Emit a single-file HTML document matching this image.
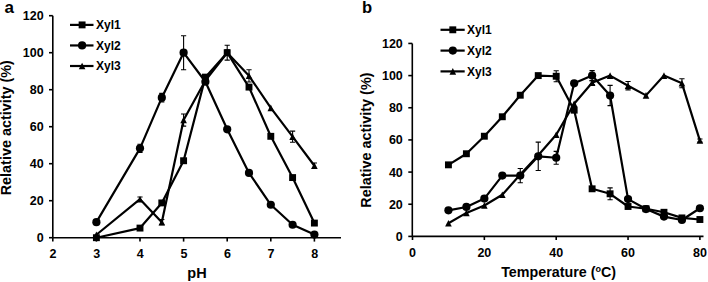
<!DOCTYPE html>
<html><head><meta charset="utf-8"><style>
html,body{margin:0;padding:0;background:#fff;}
body{width:708px;height:282px;overflow:hidden;}
svg{display:block;font-family:"Liberation Sans", sans-serif;font-weight:bold;}
</style></head><body>
<svg width="708" height="282" viewBox="0 0 708 282">
<rect width="708" height="282" fill="#fff"/>
<text x="4.4" y="12.5" text-anchor="start" font-size="17" >a</text><g stroke="#000" stroke-width="1.6" fill="none"><path d="M52.8,15.7V237.7M52.8,237.7H341"/><path d="M49,237.70H52.8"/><path d="M49,200.70H52.8"/><path d="M49,163.70H52.8"/><path d="M49,126.70H52.8"/><path d="M49,89.70H52.8"/><path d="M49,52.70H52.8"/><path d="M49,15.70H52.8"/><path d="M52.80,237.7V241.6"/><path d="M96.40,237.7V241.6"/><path d="M140.00,237.7V241.6"/><path d="M183.60,237.7V241.6"/><path d="M227.20,237.7V241.6"/><path d="M270.80,237.7V241.6"/><path d="M314.40,237.7V241.6"/></g><text x="43.6" y="242.2" text-anchor="end" font-size="12.5" >0</text><text x="43.6" y="205.2" text-anchor="end" font-size="12.5" >20</text><text x="43.6" y="168.2" text-anchor="end" font-size="12.5" >40</text><text x="43.6" y="131.2" text-anchor="end" font-size="12.5" >60</text><text x="43.6" y="94.19999999999999" text-anchor="end" font-size="12.5" >80</text><text x="43.6" y="57.19999999999999" text-anchor="end" font-size="12.5" >100</text><text x="43.6" y="20.19999999999999" text-anchor="end" font-size="12.5" >120</text><text x="53.099999999999994" y="258" text-anchor="middle" font-size="12.5" >2</text><text x="96.7" y="258" text-anchor="middle" font-size="12.5" >3</text><text x="140.3" y="258" text-anchor="middle" font-size="12.5" >4</text><text x="183.90000000000003" y="258" text-anchor="middle" font-size="12.5" >5</text><text x="227.5" y="258" text-anchor="middle" font-size="12.5" >6</text><text x="271.1" y="258" text-anchor="middle" font-size="12.5" >7</text><text x="314.70000000000005" y="258" text-anchor="middle" font-size="12.5" >8</text><text x="197" y="278.4" text-anchor="middle" font-size="14.5" >pH</text><text transform="translate(10.9,127.7) rotate(-90)" text-anchor="middle" font-size="14.4">Relative activity (%)</text><path d="M70,24.9H93.5" stroke="#000" stroke-width="2.2"/><g fill="#000"><rect x="78.65" y="21.45" width="6.90" height="6.90"/></g><text x="96" y="29.2" text-anchor="start" font-size="12" >Xyl1</text><path d="M70,45.45H93.5" stroke="#000" stroke-width="2.2"/><g fill="#000"><circle cx="82.10" cy="45.45" r="4.10"/></g><text x="96" y="49.75" text-anchor="start" font-size="12" >Xyl2</text><path d="M70,66.0H93.5" stroke="#000" stroke-width="2.2"/><g fill="#000"><polygon points="78.80,69.30 85.40,69.30 82.10,62.70"/></g><text x="96" y="70.3" text-anchor="start" font-size="12" >Xyl3</text><g stroke="#000" stroke-width="1.1" fill="none"><path d="M140.00,144.27V152.41M137.40,144.27h5.2M137.40,152.41h5.2"/><path d="M161.80,93.40V101.91M159.20,93.40h5.2M159.20,101.91h5.2"/><path d="M183.60,35.68V69.72M181.00,35.68h5.2M181.00,69.72h5.2"/><path d="M140.00,197.00V201.44M137.40,197.00h5.2M137.40,201.44h5.2"/><path d="M161.80,219.57V224.75M159.20,219.57h5.2M159.20,224.75h5.2"/><path d="M183.60,113.93V126.14M181.00,113.93h5.2M181.00,126.14h5.2"/><path d="M227.20,49.92V55.47M224.60,49.92h5.2M224.60,55.47h5.2"/><path d="M249.00,69.72V81.93M246.40,69.72h5.2M246.40,81.93h5.2"/><path d="M292.60,131.14V142.24M290.00,131.14h5.2M290.00,142.24h5.2"/><path d="M314.40,162.96V168.51M311.80,162.96h5.2M311.80,168.51h5.2"/><path d="M227.20,45.30V60.10M224.60,45.30h5.2M224.60,60.10h5.2"/></g><polyline points="96.40,237.70 140.00,228.08 161.80,202.92 183.60,160.74 205.40,77.12 227.20,52.70 249.00,87.11 270.80,136.32 292.60,177.57 314.40,223.08" fill="none" stroke="#000" stroke-width="2.2" stroke-linejoin="round"/><g fill="#000"><rect x="92.95" y="234.25" width="6.90" height="6.90"/><rect x="136.55" y="224.63" width="6.90" height="6.90"/><rect x="158.35" y="199.47" width="6.90" height="6.90"/><rect x="180.15" y="157.29" width="6.90" height="6.90"/><rect x="201.95" y="73.67" width="6.90" height="6.90"/><rect x="223.75" y="49.25" width="6.90" height="6.90"/><rect x="245.55" y="83.66" width="6.90" height="6.90"/><rect x="267.35" y="132.87" width="6.90" height="6.90"/><rect x="289.15" y="174.12" width="6.90" height="6.90"/><rect x="310.95" y="219.63" width="6.90" height="6.90"/></g><polyline points="96.40,234.74 140.00,199.22 161.80,222.16 183.60,120.04 205.40,80.45 227.20,52.70 249.00,75.82 270.80,107.83 292.60,136.69 314.40,165.73" fill="none" stroke="#000" stroke-width="2.2" stroke-linejoin="round"/><g fill="#000"><polygon points="93.10,238.04 99.70,238.04 96.40,231.44"/><polygon points="136.70,202.52 143.30,202.52 140.00,195.92"/><polygon points="158.50,225.46 165.10,225.46 161.80,218.86"/><polygon points="180.30,123.34 186.90,123.34 183.60,116.74"/><polygon points="202.10,83.75 208.70,83.75 205.40,77.15"/><polygon points="223.90,56.00 230.50,56.00 227.20,49.40"/><polygon points="245.70,79.12 252.30,79.12 249.00,72.52"/><polygon points="267.50,111.13 274.10,111.13 270.80,104.53"/><polygon points="289.30,139.99 295.90,139.99 292.60,133.39"/><polygon points="311.10,169.03 317.70,169.03 314.40,162.43"/></g><polyline points="96.40,222.16 140.00,148.34 161.80,97.65 183.60,52.70 205.40,81.74 227.20,129.29 249.00,172.95 270.80,204.77 292.60,224.75 314.40,234.55" fill="none" stroke="#000" stroke-width="2.2" stroke-linejoin="round"/><g fill="#000"><circle cx="96.40" cy="222.16" r="4.10"/><circle cx="140.00" cy="148.34" r="4.10"/><circle cx="161.80" cy="97.65" r="4.10"/><circle cx="183.60" cy="52.70" r="4.10"/><circle cx="205.40" cy="81.74" r="4.10"/><circle cx="227.20" cy="129.29" r="4.10"/><circle cx="249.00" cy="172.95" r="4.10"/><circle cx="270.80" cy="204.77" r="4.10"/><circle cx="292.60" cy="224.75" r="4.10"/><circle cx="314.40" cy="234.55" r="4.10"/></g><text x="362" y="12.6" text-anchor="start" font-size="16.6" >b</text><g stroke="#000" stroke-width="1.6" fill="none"><path d="M412.3,43.4V236.4M412.3,236.4H703.5"/><path d="M408.3,236.40H412.3"/><path d="M408.3,204.24H412.3"/><path d="M408.3,172.08H412.3"/><path d="M408.3,139.92H412.3"/><path d="M408.3,107.76H412.3"/><path d="M408.3,75.60H412.3"/><path d="M408.3,43.44H412.3"/><path d="M412.50,236.4V240"/><path d="M484.35,236.4V240"/><path d="M556.20,236.4V240"/><path d="M628.05,236.4V240"/><path d="M699.90,236.4V240"/></g><text x="402.8" y="240.9" text-anchor="end" font-size="12.5" >0</text><text x="402.8" y="208.74" text-anchor="end" font-size="12.5" >20</text><text x="402.8" y="176.57999999999998" text-anchor="end" font-size="12.5" >40</text><text x="402.8" y="144.42000000000002" text-anchor="end" font-size="12.5" >60</text><text x="402.8" y="112.25999999999999" text-anchor="end" font-size="12.5" >80</text><text x="402.8" y="80.1" text-anchor="end" font-size="12.5" >100</text><text x="402.8" y="47.94" text-anchor="end" font-size="12.5" >120</text><text x="412.5" y="256.6" text-anchor="middle" font-size="12.5" >0</text><text x="484.35" y="256.6" text-anchor="middle" font-size="12.5" >20</text><text x="556.2" y="256.6" text-anchor="middle" font-size="12.5" >40</text><text x="628.05" y="256.6" text-anchor="middle" font-size="12.5" >60</text><text x="699.9" y="256.6" text-anchor="middle" font-size="12.5" >80</text><text x="558.6" y="276.5" text-anchor="middle" font-size="14.3">Temperature (<tspan font-size="9" dy="-5">o</tspan><tspan dy="5">C)</tspan></text><text transform="translate(370.9,140.1) rotate(-90)" text-anchor="middle" font-size="14.4">Relative activity (%)</text><path d="M440.5,29.8H464.7" stroke="#000" stroke-width="2.2"/><g fill="#000"><rect x="449.35" y="26.35" width="6.90" height="6.90"/></g><text x="467" y="34.1" text-anchor="start" font-size="12" >Xyl1</text><path d="M440.5,50.6H464.7" stroke="#000" stroke-width="2.2"/><g fill="#000"><circle cx="452.80" cy="50.60" r="4.10"/></g><text x="467" y="54.9" text-anchor="start" font-size="12" >Xyl2</text><path d="M440.5,71.4H464.7" stroke="#000" stroke-width="2.2"/><g fill="#000"><polygon points="449.50,74.70 456.10,74.70 452.80,68.10"/></g><text x="467" y="75.7" text-anchor="start" font-size="12" >Xyl3</text><g stroke="#000" stroke-width="1.1" fill="none"><path d="M556.20,70.78V81.71M553.60,70.78h5.2M553.60,81.71h5.2"/><path d="M610.09,187.84V199.74M607.49,187.84h5.2M607.49,199.74h5.2"/><path d="M484.35,196.20V201.02M481.75,196.20h5.2M481.75,201.02h5.2"/><path d="M520.27,168.54V182.69M517.67,168.54h5.2M517.67,182.69h5.2"/><path d="M538.24,142.17V170.47M535.64,142.17h5.2M535.64,170.47h5.2"/><path d="M556.20,151.34V164.20M553.60,151.34h5.2M553.60,164.20h5.2"/><path d="M592.12,70.62V80.58M589.52,70.62h5.2M589.52,80.58h5.2"/><path d="M610.09,85.41V105.67M607.49,85.41h5.2M607.49,105.67h5.2"/><path d="M592.12,80.75V84.60M589.52,80.75h5.2M589.52,84.60h5.2"/><path d="M628.05,81.55V89.91M625.45,81.55h5.2M625.45,89.91h5.2"/><path d="M681.94,78.82V87.82M679.34,78.82h5.2M679.34,87.82h5.2"/><path d="M699.90,138.96V142.17M697.30,138.96h5.2M697.30,142.17h5.2"/></g><polyline points="448.43,164.84 466.39,153.75 484.35,136.22 502.31,116.76 520.27,95.22 538.24,75.60 556.20,76.24 574.16,110.17 592.12,188.80 610.09,193.79 628.05,206.49 646.01,208.74 663.98,212.28 681.94,217.91 699.90,219.52" fill="none" stroke="#000" stroke-width="2.2" stroke-linejoin="round"/><g fill="#000"><rect x="444.98" y="161.39" width="6.90" height="6.90"/><rect x="462.94" y="150.30" width="6.90" height="6.90"/><rect x="480.90" y="132.77" width="6.90" height="6.90"/><rect x="498.86" y="113.31" width="6.90" height="6.90"/><rect x="516.82" y="91.77" width="6.90" height="6.90"/><rect x="534.79" y="72.15" width="6.90" height="6.90"/><rect x="552.75" y="72.79" width="6.90" height="6.90"/><rect x="570.71" y="106.72" width="6.90" height="6.90"/><rect x="588.67" y="185.35" width="6.90" height="6.90"/><rect x="606.64" y="190.34" width="6.90" height="6.90"/><rect x="624.60" y="203.04" width="6.90" height="6.90"/><rect x="642.56" y="205.29" width="6.90" height="6.90"/><rect x="660.52" y="208.83" width="6.90" height="6.90"/><rect x="678.49" y="214.46" width="6.90" height="6.90"/><rect x="696.45" y="216.07" width="6.90" height="6.90"/></g><polyline points="448.43,223.21 466.39,212.92 484.35,205.53 502.31,194.75 520.27,174.49 538.24,155.20 556.20,134.77 574.16,103.74 592.12,82.68 610.09,75.60 628.05,85.73 646.01,95.38 663.98,75.60 681.94,83.32 699.90,140.56" fill="none" stroke="#000" stroke-width="2.2" stroke-linejoin="round"/><g fill="#000"><polygon points="445.12,226.51 451.73,226.51 448.43,219.91"/><polygon points="463.09,216.22 469.69,216.22 466.39,209.62"/><polygon points="481.05,208.83 487.65,208.83 484.35,202.23"/><polygon points="499.01,198.05 505.61,198.05 502.31,191.45"/><polygon points="516.98,177.79 523.57,177.79 520.27,171.19"/><polygon points="534.94,158.50 541.54,158.50 538.24,151.90"/><polygon points="552.90,138.07 559.50,138.07 556.20,131.47"/><polygon points="570.86,107.04 577.46,107.04 574.16,100.44"/><polygon points="588.83,85.98 595.42,85.98 592.12,79.38"/><polygon points="606.79,78.90 613.39,78.90 610.09,72.30"/><polygon points="624.75,89.03 631.35,89.03 628.05,82.43"/><polygon points="642.71,98.68 649.31,98.68 646.01,92.08"/><polygon points="660.68,78.90 667.27,78.90 663.98,72.30"/><polygon points="678.64,86.62 685.24,86.62 681.94,80.02"/><polygon points="696.60,143.86 703.20,143.86 699.90,137.26"/></g><polyline points="448.43,210.35 466.39,206.97 484.35,198.61 502.31,175.62 520.27,175.62 538.24,156.32 556.20,157.77 574.16,83.32 592.12,75.60 610.09,95.54 628.05,199.09 646.01,209.06 663.98,216.62 681.94,220.00 699.90,208.26" fill="none" stroke="#000" stroke-width="2.2" stroke-linejoin="round"/><g fill="#000"><circle cx="448.43" cy="210.35" r="4.10"/><circle cx="466.39" cy="206.97" r="4.10"/><circle cx="484.35" cy="198.61" r="4.10"/><circle cx="502.31" cy="175.62" r="4.10"/><circle cx="520.27" cy="175.62" r="4.10"/><circle cx="538.24" cy="156.32" r="4.10"/><circle cx="556.20" cy="157.77" r="4.10"/><circle cx="574.16" cy="83.32" r="4.10"/><circle cx="592.12" cy="75.60" r="4.10"/><circle cx="610.09" cy="95.54" r="4.10"/><circle cx="628.05" cy="199.09" r="4.10"/><circle cx="646.01" cy="209.06" r="4.10"/><circle cx="663.98" cy="216.62" r="4.10"/><circle cx="681.94" cy="220.00" r="4.10"/><circle cx="699.90" cy="208.26" r="4.10"/></g>
</svg>
</body></html>
